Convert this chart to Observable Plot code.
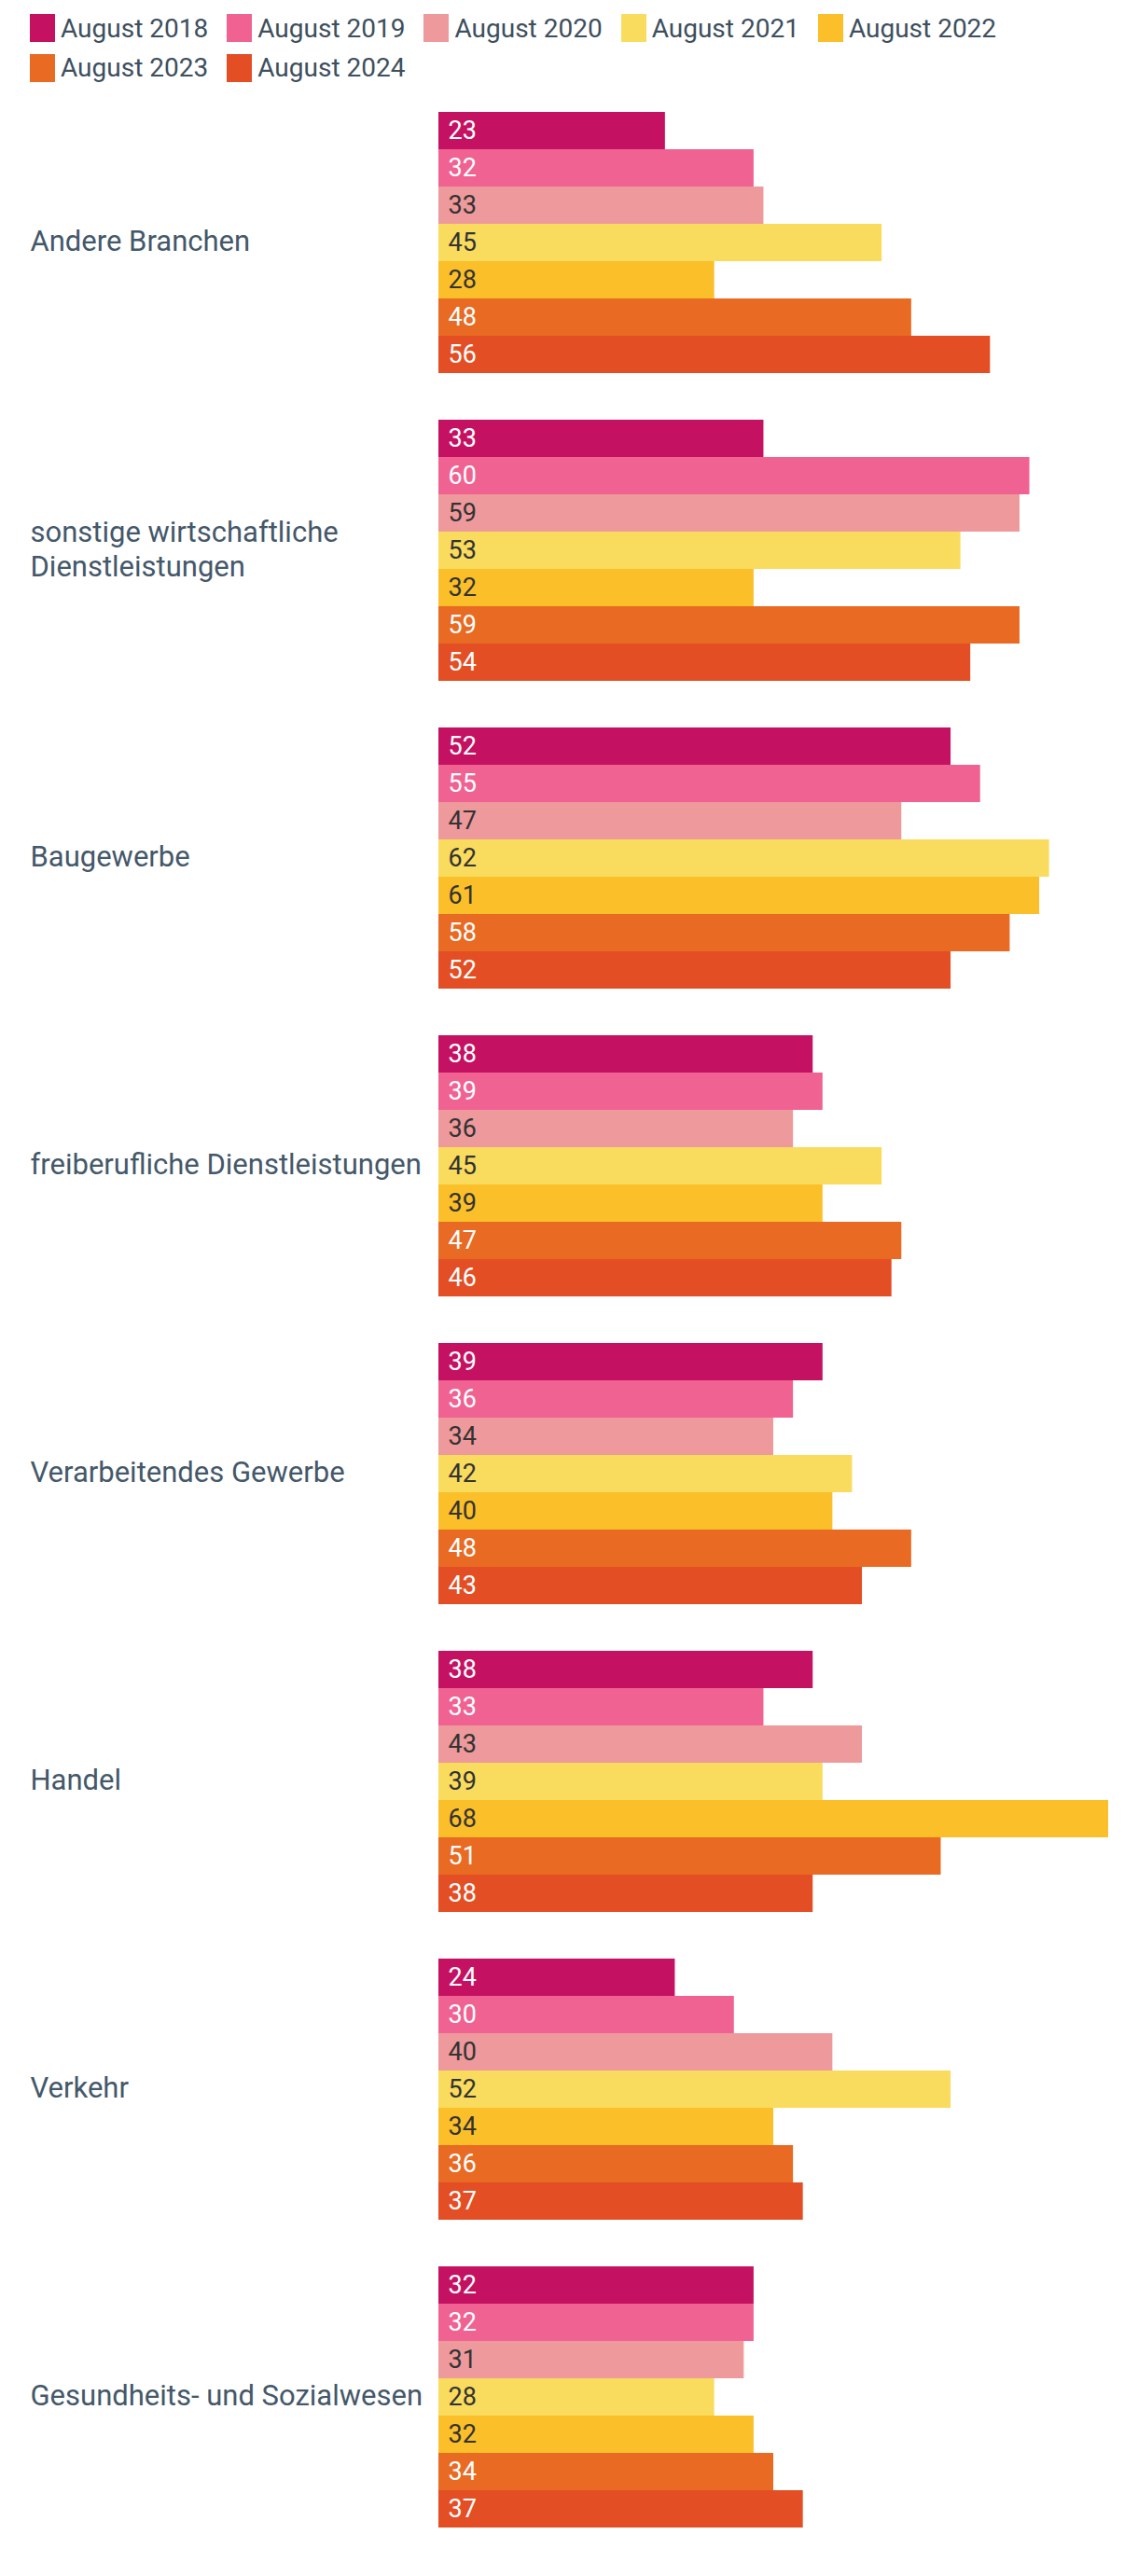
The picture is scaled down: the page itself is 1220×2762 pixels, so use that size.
<!DOCTYPE html>
<html>
<head>
<meta charset="utf-8">
<script src="https://cdn.jsdelivr.net/npm/d3@7"></script>
<script src="https://cdn.jsdelivr.net/npm/@observablehq/plot@0.6"></script>
<style>
  html, body { margin: 0; padding: 0; background: #fff; }
  body { width: 1220px; font-family: Roboto, "Noto Sans", sans-serif; }
  #legend { box-sizing: border-box; height: 88px; padding: 15px 0 0 32px; display: flex; flex-wrap: wrap; row-gap: 12px; column-gap: 20px; width: 1120px; }
  .item { display: flex; align-items: center; height: 30px; font-size: 28px; color: #3e4f5e; }
  .sw { width: 27px; height: 30px; margin-right: 6px; }
  #chart svg { display: block; }
</style>
</head>
<body>
<div id="legend"></div>
<div id="chart"></div>
<script>
const years = ["August 2018", "August 2019", "August 2020", "August 2021", "August 2022", "August 2023", "August 2024"];
const colors = ["#c51162", "#f06292", "#ee999b", "#f9db5e", "#fbbf29", "#e86a23", "#e34e24"];
const darkLabelYears = ["August 2020", "August 2021", "August 2022"];
const branches = [
  "Andere Branchen",
  "sonstige wirtschaftliche Dienstleistungen",
  "Baugewerbe",
  "freiberufliche Dienstleistungen",
  "Verarbeitendes Gewerbe",
  "Handel",
  "Verkehr",
  "Gesundheits- und Sozialwesen"
];
const branchLabels = [
  "Andere Branchen",
  "sonstige wirtschaftliche\nDienstleistungen",
  "Baugewerbe",
  "freiberufliche Dienstleistungen",
  "Verarbeitendes Gewerbe",
  "Handel",
  "Verkehr",
  "Gesundheits- und Sozialwesen"
];
// values per year, in branch order
const v2018 = [23, 33, 52, 38, 39, 38, 24, 32];
const v2019 = [32, 60, 55, 39, 36, 33, 30, 32];
const v2020 = [33, 59, 47, 36, 34, 43, 40, 31];
const v2021 = [45, 53, 62, 45, 42, 39, 52, 28];
const v2022 = [28, 32, 61, 39, 40, 68, 34, 32];
const v2023 = [48, 59, 58, 47, 48, 51, 36, 34];
const v2024 = [56, 54, 52, 46, 43, 38, 37, 37];
const series = [v2018, v2019, v2020, v2021, v2022, v2023, v2024];

const data = [];
branches.forEach((b, i) => {
  years.forEach((y, j) => {
    data.push({branch: b, year: y, value: series[j][i]});
  });
});
const labelRows = branches.map((b, i) => ({branch: b, label: branchLabels[i]}));

// legend
const legend = document.getElementById("legend");
years.forEach((y, i) => {
  const it = document.createElement("div");
  it.className = "item";
  const sw = document.createElement("span");
  sw.className = "sw";
  sw.style.background = colors[i];
  it.appendChild(sw);
  it.appendChild(document.createTextNode(y));
  legend.appendChild(it);
});

const fontFamily = "Roboto, 'Noto Sans', sans-serif";
const chart = Plot.plot({
  width: 1220,
  height: 2674,
  marginLeft: 470,
  marginRight: 32,
  marginTop: 32,
  marginBottom: 52,
  style: {fontFamily: fontFamily, background: "#fff"},
  x: {domain: [0, 68], axis: null},
  y: {domain: years, padding: 0, axis: null},
  fy: {domain: branches, paddingInner: 50 / 330, paddingOuter: 0, axis: null},
  color: {domain: years, range: colors},
  marks: [
    Plot.barX(data, {x: "value", y: "year", fy: "branch", fill: "year", inset: 0}),
    Plot.text(data.filter(d => !darkLabelYears.includes(d.year)), {
      x: 0, y: "year", fy: "branch", text: "value", dx: 10, textAnchor: "start",
      fill: "#ffffff", fontSize: 27
    }),
    Plot.text(data.filter(d => darkLabelYears.includes(d.year)), {
      x: 0, y: "year", fy: "branch", text: "value", dx: 10, textAnchor: "start",
      fill: "#333333", fontSize: 27
    }),
    Plot.text(labelRows, {
      fy: "branch", text: "label", frameAnchor: "left", dx: -438, dy: -3, textAnchor: "start",
      fill: "#44586a", fontSize: 31, lineHeight: 1.2
    })
  ]
});
document.getElementById("chart").appendChild(chart);
</script>
</body>
</html>
